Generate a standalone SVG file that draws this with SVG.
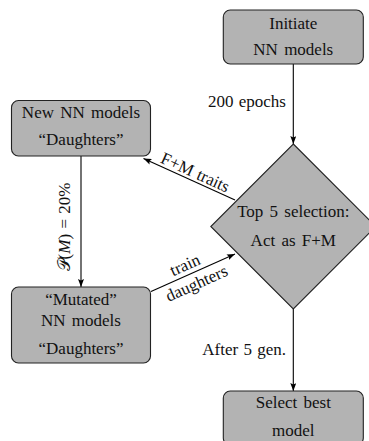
<svg xmlns="http://www.w3.org/2000/svg" width="369" height="441" viewBox="0 0 369 441">
<defs>
<marker id="ah" viewBox="0 0 8 6" refX="8" refY="3" markerWidth="8" markerHeight="6" markerUnits="userSpaceOnUse" orient="auto">
<path d="M0,0 L8,3 L0,6 L1.5,3 z" fill="#000"/>
</marker>
<style>
.box{fill:#b3b3b3;stroke:#222;stroke-width:1.1}
text{font-family:'Liberation Serif','Times New Roman',serif;font-size:17px;fill:#111}
.t{text-anchor:middle;word-spacing:2px}
.l{word-spacing:1px}
.c{fill:none;stroke:#000;stroke-width:1.1;marker-end:url(#ah)}
</style>
</defs>
<rect width="369" height="441" fill="#fff"/>
<g id="connectors">
<line class="c" x1="293.3" y1="64" x2="293.3" y2="144"/>
<line class="c" x1="235" y1="200" x2="143.5" y2="158.5"/>
<line class="c" x1="81" y1="156" x2="81" y2="287"/>
<line class="c" x1="151" y1="291.5" x2="235" y2="254"/>
<line class="c" x1="293.3" y1="309" x2="293.3" y2="391"/>
<text class="l" x="286" y="107" text-anchor="end">200 epochs</text>
<text class="l" x="286" y="355" text-anchor="end">After 5 gen.</text>
<g transform="translate(189,179) rotate(24.45)"><text class="l" x="3" y="-3" text-anchor="middle">F+M traits</text></g>
<g transform="translate(193,273) rotate(-24.3)"><text class="l" x="-4" y="-5" text-anchor="middle">train</text><text class="l" x="-1" y="16.5" text-anchor="middle">daughters</text></g>
<g transform="translate(70,227) rotate(-90)"><text class="l" x="0" y="0" text-anchor="middle" word-spacing="2px">𝒫(<tspan font-style="italic">M</tspan>) = 20%</text></g>
</g>
<g id="initiate"><rect class="box" x="223.3" y="10" width="140" height="54" rx="7"/><text class="t" x="293.3" y="29">Initiate</text><text class="t" x="293.3" y="55">NN models</text></g>
<g id="daughters"><rect class="box" x="11.5" y="100.5" width="139" height="55.5" rx="7"/><text class="t" x="81" y="118">New NN models</text><text class="t" x="81" y="145">“Daughters”</text></g>
<g id="selection"><polygon class="box" points="293.3,144 375.8,226.5 293.3,309 210.8,226.5"/><text class="t" x="293.3" y="217">Top 5 selection:</text><text class="t" x="293.3" y="246">Act as F+M</text></g>
<g id="mutated"><rect class="box" x="11.5" y="287" width="139" height="76" rx="7"/><text class="t" x="81" y="305">“Mutated”</text><text class="t" x="81" y="326">NN models</text><text class="t" x="81" y="354">“Daughters”</text></g>
<g id="best"><rect class="box" x="223.3" y="391" width="140" height="54" rx="7"/><text class="t" x="293.3" y="408">Select best</text><text class="t" x="293.3" y="436">model</text></g>
</svg>
